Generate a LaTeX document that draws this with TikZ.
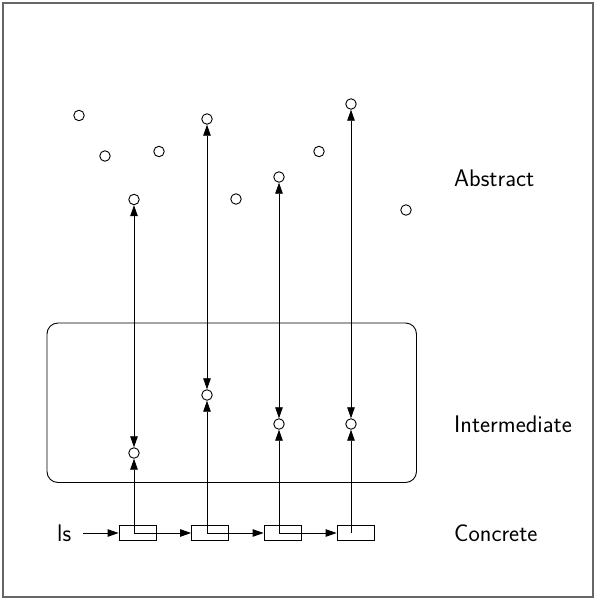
\documentclass[tikz,border=0pt]{standalone}
\usetikzlibrary{arrows.meta}
\begin{document}
\begin{tikzpicture}[x=1pt,y=-1pt,
  dot/.style={circle,draw,line width=0.9pt,inner sep=0pt,minimum size=10.5pt},
  cell/.style={draw,line width=0.8pt,minimum width=37pt,minimum height=14.5pt,inner sep=0pt},
  lbl/.style={font=\sffamily\fontsize{24}{28}\selectfont,anchor=base west,inner sep=0pt},
  tip/.style={},
  link/.style={line width=0.8pt,-{Triangle[length=11pt,width=7.5pt]}},
  dlink/.style={line width=0.8pt,{Triangle[length=11pt,width=7.5pt]}-{Triangle[length=11pt,width=7.5pt]}}]
\useasboundingbox (0,0) rectangle (594,600);
\draw[line width=1.4pt,gray!80!black] (3,3) rectangle (593,597);
% abstract dots
\node[dot] (a1) at (79,115.5) {};
\node[dot] (a2) at (105,156) {};
\node[dot] (a3) at (159,151.5) {};
\node[dot] (a4) at (134,199.5) {};
\node[dot] (a5) at (207,119) {};
\node[dot] (a6) at (236,199) {};
\node[dot] (a7) at (279,177) {};
\node[dot] (a8) at (319,151.5) {};
\node[dot] (a9) at (351,104) {};
\node[dot] (a10) at (406,210) {};
% intermediate
\draw[line width=0.9pt,rounded corners=11pt] (47,323) rectangle (416.5,482.5);
\node[dot] (i1) at (134,453) {};
\node[dot] (i2) at (207,395) {};
\node[dot] (i3) at (279,424) {};
\node[dot] (i4) at (351,424) {};
% concrete
\node[cell] (b1) at (137.5,533) {};
\node[cell] (b2) at (210,533) {};
\node[cell] (b3) at (282.5,533) {};
\node[cell] (b4) at (355.5,533) {};
\coordinate (p1) at (134,533);
\coordinate (p2) at (207,533);
\coordinate (p3) at (279,533);
\coordinate (p4) at (351,533);
\node[lbl] (ls) at (57,541) {ls};
\coordinate (lsend) at (83,533);
\draw[link] (lsend) -- (b1.west);
\draw[link] (p1) -- (b2.west);
\draw[link] (p2) -- (b3.west);
\draw[link] (p3) -- (b4.west);
\draw[link] (p1) -- (i1);
\draw[link] (p2) -- (i2);
\draw[link] (p3) -- (i3);
\draw[link] (p4) -- (i4);
\draw[dlink] (i1) -- (a4);
\draw[dlink] (i2) -- (a5);
\draw[dlink] (i3) -- (a7);
\draw[dlink] (i4) -- (a9);
% labels
\node[lbl] (la) at (454,186) {Abstract};
\node[lbl] (li) at (454,432) {Intermediate};
\node[lbl] (lc) at (454,541) {Concrete};
\end{tikzpicture}
\end{document}
